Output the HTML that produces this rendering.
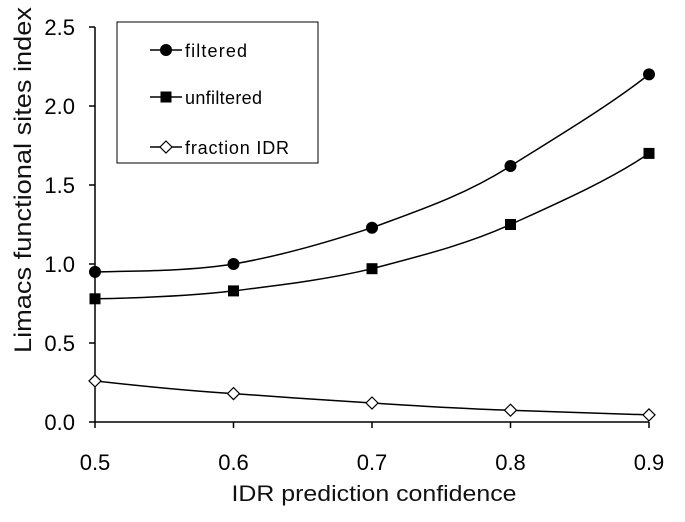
<!DOCTYPE html><html><head><style>body{margin:0;background:#fff}</style></head><body>
<svg width="685" height="517" xmlns="http://www.w3.org/2000/svg" font-family="Liberation Sans, Arial, sans-serif">
<g stroke="#000" stroke-width="1.5" fill="none">
<line x1="95" y1="27" x2="95" y2="422"/><line x1="95" y1="422" x2="649" y2="422"/>
<line x1="89" y1="27" x2="95" y2="27"/><line x1="89" y1="106" x2="95" y2="106"/><line x1="89" y1="185" x2="95" y2="185"/><line x1="89" y1="264" x2="95" y2="264"/><line x1="89" y1="343" x2="95" y2="343"/><line x1="89" y1="422" x2="95" y2="422"/>
<line x1="95" y1="422" x2="95" y2="428"/><line x1="233.5" y1="422" x2="233.5" y2="428"/><line x1="372" y1="422" x2="372" y2="428"/><line x1="510.5" y1="422" x2="510.5" y2="428"/><line x1="649" y1="422" x2="649" y2="428"/>
<path d="M95,271.9 C140,271 190,271 233.5,264 C280,256 325,243 372,227.7 C420,210 465,195 510.5,166 C560,135 610,105 649,74.4"/>
<path d="M95,298.8 C140,298 190,296 233.5,290.9 C280,285 325,280 372,268.7 C420,256 465,245 510.5,224.5 C560,202 610,180 649,153.4"/>
<path d="M95,380.9 C140,386 190,391 233.5,393.6 C280,397 325,400 372,403 C420,406 465,409 510.5,410.2 C560,412 610,414 649,414.9"/>
</g>
<g fill="#000">
<circle cx="95" cy="271.9" r="6"/><circle cx="233.5" cy="264" r="6"/><circle cx="372" cy="227.7" r="6"/><circle cx="510.5" cy="166" r="6"/><circle cx="649" cy="74.4" r="6"/>
<rect x="89.5" y="293.3" width="11" height="11"/><rect x="228" y="285.4" width="11" height="11"/><rect x="366.5" y="263.2" width="11" height="11"/><rect x="505" y="219" width="11" height="11"/><rect x="643.5" y="147.9" width="11" height="11"/>
</g>
<g fill="#fff" stroke="#000" stroke-width="1.2">
<path d="M95,374.9 l6,6 l-6,6 l-6,-6z"/><path d="M233.5,387.6 l6,6 l-6,6 l-6,-6z"/><path d="M372,397 l6,6 l-6,6 l-6,-6z"/><path d="M510.5,404.2 l6,6 l-6,6 l-6,-6z"/><path d="M649,408.9 l6,6 l-6,6 l-6,-6z"/>
</g>
<rect x="117" y="22" width="201" height="141" fill="#fff" stroke="#000" stroke-width="1"/>
<g stroke="#000" stroke-width="1.5"><line x1="150" y1="50" x2="182" y2="50"/><line x1="150" y1="97" x2="182" y2="97"/><line x1="150" y1="147" x2="182" y2="147"/></g>
<circle cx="166" cy="50" r="6"/><rect x="160.5" y="91.5" width="11" height="11"/>
<path d="M166,141 l6,6 l-6,6 l-6,-6z" fill="#fff" stroke="#000" stroke-width="1.2"/>
<g font-size="18"><text x="185" y="57" textLength="62">filtered</text><text x="185" y="104" textLength="77">unfiltered</text><text x="185" y="154" textLength="104">fraction IDR</text></g>
<g font-size="22" text-anchor="middle" fill="#111">
<text x="374" y="501" textLength="285" lengthAdjust="spacingAndGlyphs">IDR prediction confidence</text>
<text transform="translate(31,180) rotate(-90)" font-size="24" textLength="346" lengthAdjust="spacingAndGlyphs">Limacs functional sites index</text></g>
<g font-size="22" text-anchor="end"><text x="75" y="35">2.5</text><text x="75" y="114">2.0</text><text x="75" y="193">1.5</text><text x="75" y="272">1.0</text><text x="75" y="351">0.5</text><text x="75" y="430">0.0</text></g>
<g font-size="22" text-anchor="middle"><text x="95" y="470">0.5</text><text x="233.5" y="470">0.6</text><text x="372" y="470">0.7</text><text x="510.5" y="470">0.8</text><text x="649" y="470">0.9</text></g>
</svg></body></html>
